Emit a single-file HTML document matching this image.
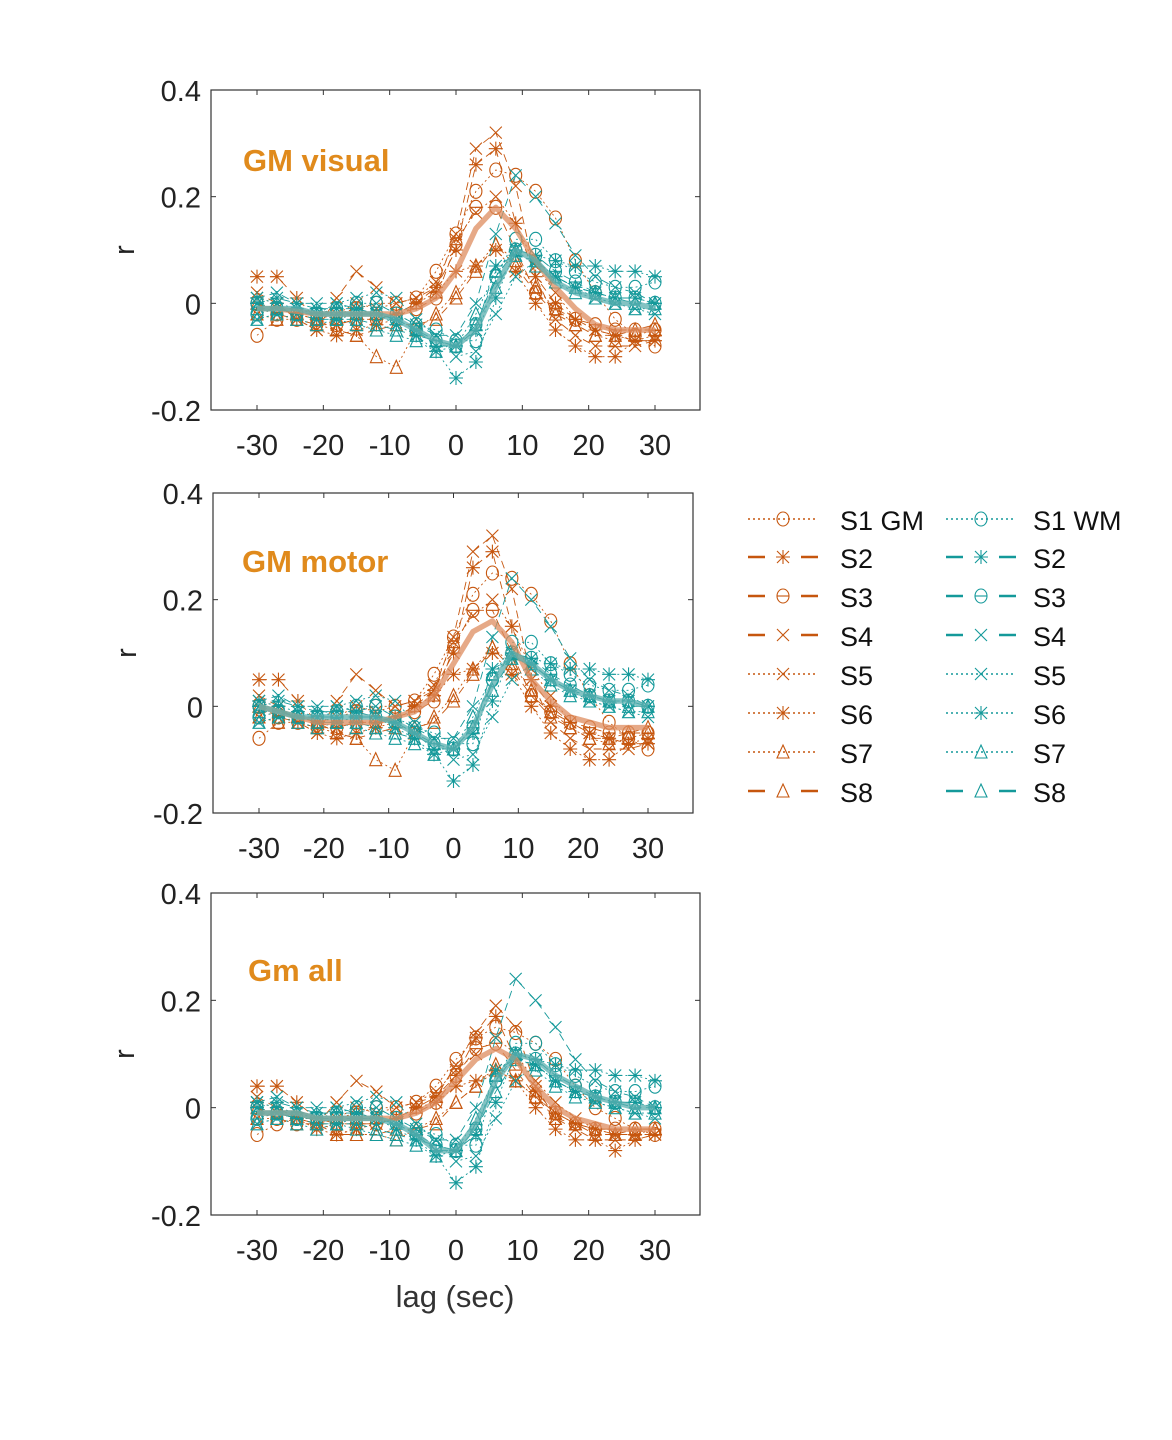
<!DOCTYPE html>
<html><head><meta charset="utf-8">
<style>
html,body{margin:0;padding:0;background:#fff;}
svg{display:block;font-family:"Liberation Sans",sans-serif;}
</style></head>
<body>
<svg id="chart" width="1172" height="1440" viewBox="0 0 1172 1440" xmlns="http://www.w3.org/2000/svg"></svg>
<script>
const lags = [-30,-27,-24,-21,-18,-15,-12,-9,-6,-3,0,3,6,9,12,15,18,21,24,27,30];
const xTicks = [-30,-20,-10,0,10,20,30];
const yTicks = [0.4,0.2,0,-0.2];
const yTickLabels = ["0.4","0.2","0","-0.2"];
const panelTitles = ["GM visual","GM motor","Gm all"];
const legendLabelsGM = ["S1 GM","S2","S3","S4","S5","S6","S7","S8"];
const legendLabelsWM = ["S1 WM","S2","S3","S4","S5","S6","S7","S8"];

const gmMean1 = [-0.01,-0.01,-0.015,-0.02,-0.02,-0.02,-0.02,-0.02,-0.01,0.01,0.06,0.14,0.18,0.14,0.08,0.03,-0.01,-0.04,-0.05,-0.05,-0.05];
const wmMean1 = [-0.01,-0.01,-0.01,-0.02,-0.02,-0.02,-0.02,-0.03,-0.05,-0.07,-0.08,-0.05,0.03,0.10,0.08,0.04,0.02,0.01,0.00,0.00,-0.01];
const gmMean2 = [0.00,-0.01,-0.02,-0.03,-0.03,-0.03,-0.03,-0.02,-0.01,0.02,0.08,0.14,0.16,0.12,0.05,0.01,-0.02,-0.03,-0.04,-0.04,-0.04];
const wmMean2 = [0.00,-0.01,-0.02,-0.02,-0.02,-0.02,-0.02,-0.03,-0.05,-0.07,-0.08,-0.04,0.04,0.10,0.08,0.05,0.03,0.02,0.01,0.01,0.00];
const gmMean3 = [-0.01,-0.01,-0.01,-0.02,-0.02,-0.02,-0.02,-0.02,-0.01,0.01,0.05,0.09,0.11,0.09,0.04,0.00,-0.02,-0.03,-0.04,-0.04,-0.04];
const wmMean3 = [-0.01,-0.01,-0.01,-0.02,-0.02,-0.02,-0.02,-0.03,-0.05,-0.08,-0.08,-0.03,0.05,0.10,0.09,0.06,0.04,0.02,0.01,0.00,0.00];

const gmS1 = [-0.06,-0.03,-0.02,-0.03,-0.02,-0.01,0.00,0.00,0.01,0.06,0.13,0.21,0.25,0.24,0.21,0.16,0.08,0.02,-0.03,-0.06,-0.08];
const gmS2 = [0.05,0.05,0.01,-0.03,-0.04,-0.03,-0.03,-0.02,0.00,0.03,0.10,0.26,0.29,0.15,0.05,0.00,-0.03,-0.05,-0.06,-0.07,-0.07];
const gmS3 = [0.00,-0.02,-0.03,-0.04,-0.04,-0.03,-0.03,-0.02,-0.01,0.01,0.11,0.18,0.18,0.10,0.02,-0.01,-0.03,-0.04,-0.05,-0.05,-0.05];
const gmS4 = [0.02,0.00,-0.03,-0.05,0.01,0.06,0.03,0.00,0.01,0.03,0.13,0.29,0.32,0.22,0.05,-0.03,-0.06,-0.08,-0.08,-0.08,-0.07];
const gmS5 = [-0.02,-0.01,-0.02,-0.03,-0.02,0.00,-0.01,0.00,0.01,0.04,0.12,0.17,0.20,0.15,0.07,0.02,-0.03,-0.05,-0.06,-0.07,-0.07];
const gmS6 = [0.01,0.00,-0.03,-0.05,-0.06,-0.05,-0.04,-0.03,0.00,0.02,0.06,0.07,0.10,0.06,0.00,-0.05,-0.08,-0.10,-0.10,-0.07,-0.06];
const gmS7 = [-0.02,-0.03,-0.03,-0.04,-0.05,-0.06,-0.10,-0.12,-0.05,-0.02,0.02,0.07,0.11,0.08,0.03,-0.01,-0.04,-0.06,-0.07,-0.06,-0.05];
const gmS8 = [0.00,-0.01,-0.02,-0.03,-0.05,-0.06,-0.05,-0.04,-0.04,-0.03,0.01,0.06,0.11,0.07,0.02,-0.02,-0.04,-0.06,-0.06,-0.05,-0.04];
const gmAllS1 = [-0.05,-0.03,-0.02,-0.03,-0.02,-0.01,0.00,0.00,0.01,0.04,0.09,0.13,0.15,0.14,0.12,0.09,0.04,0.00,-0.02,-0.04,-0.05];
const gmAllS2 = [0.04,0.04,0.01,-0.02,-0.03,-0.03,-0.03,-0.02,0.00,0.02,0.06,0.13,0.17,0.09,0.03,-0.01,-0.03,-0.04,-0.05,-0.05,-0.05];
const gmAllS3 = [0.00,-0.02,-0.03,-0.03,-0.03,-0.03,-0.03,-0.02,-0.01,0.01,0.06,0.11,0.12,0.07,0.02,-0.01,-0.03,-0.04,-0.04,-0.04,-0.04];
const gmAllS4 = [0.02,0.00,-0.02,-0.03,0.01,0.05,0.03,0.00,0.01,0.02,0.08,0.14,0.19,0.15,0.04,-0.02,-0.04,-0.06,-0.06,-0.06,-0.05];
const gmAllS5 = [-0.02,-0.01,-0.02,-0.02,-0.02,0.00,-0.01,0.00,0.01,0.03,0.07,0.10,0.13,0.10,0.05,0.01,-0.02,-0.04,-0.05,-0.05,-0.05];
const gmAllS6 = [0.01,0.00,-0.02,-0.04,-0.05,-0.04,-0.03,-0.02,0.00,0.01,0.04,0.05,0.07,0.05,0.00,-0.04,-0.06,-0.06,-0.08,-0.06,-0.05];
const gmAllS7 = [-0.02,-0.02,-0.03,-0.03,-0.04,-0.05,-0.05,-0.06,-0.04,-0.02,0.01,0.04,0.07,0.05,0.02,-0.01,-0.03,-0.04,-0.05,-0.05,-0.04];
const gmAllS8 = [0.00,-0.01,-0.02,-0.03,-0.05,-0.05,-0.05,-0.04,-0.04,-0.03,0.01,0.04,0.08,0.05,0.02,-0.02,-0.03,-0.05,-0.05,-0.04,-0.04];
const wmS1 = [-0.02,-0.01,-0.02,-0.02,-0.01,0.00,0.00,-0.02,-0.04,-0.05,-0.07,-0.07,0.05,0.12,0.12,0.08,0.06,0.04,0.03,0.03,0.04];
const wmS2 = [0.00,0.01,0.00,-0.01,-0.01,-0.01,-0.02,-0.03,-0.05,-0.08,-0.08,-0.05,0.07,0.09,0.08,0.05,0.03,0.02,0.01,0.01,0.00];
const wmS3 = [0.00,-0.01,-0.02,-0.02,-0.02,-0.02,-0.02,-0.03,-0.05,-0.07,-0.08,-0.04,0.05,0.10,0.09,0.06,0.04,0.02,0.01,0.01,0.00];
const wmS4 = [0.01,0.02,0.00,0.00,0.00,-0.01,0.00,-0.02,-0.04,-0.06,-0.06,0.00,0.13,0.24,0.20,0.15,0.09,0.05,0.03,0.02,0.00];
const wmS5 = [-0.03,-0.02,-0.01,-0.02,0.00,0.01,0.02,0.01,-0.03,-0.06,-0.10,-0.09,-0.02,0.05,0.08,0.05,0.03,0.01,0.00,-0.01,-0.02];
const wmS6 = [0.01,0.00,-0.01,-0.02,-0.03,-0.02,-0.02,-0.04,-0.06,-0.09,-0.14,-0.11,0.01,0.10,0.09,0.08,0.07,0.07,0.06,0.06,0.05];
const wmS7 = [-0.03,-0.02,-0.03,-0.04,-0.03,-0.04,-0.05,-0.06,-0.07,-0.09,-0.08,-0.02,0.06,0.10,0.07,0.04,0.02,0.01,0.00,-0.01,-0.01];
const wmS8 = [-0.01,-0.01,-0.02,-0.03,-0.03,-0.03,-0.04,-0.05,-0.06,-0.07,-0.08,-0.04,0.03,0.09,0.08,0.05,0.03,0.02,0.01,0.00,0.00];

const NS = "http://www.w3.org/2000/svg";
const svg = document.getElementById("chart");
const GM = "#c6560e", WM = "#14999a";
const markers = ["circle","star","theta","x","x","star","tri","tri"];
const dashes = ["2,3","8,5","8,5","8,5","2,3","2,3","2,3","8,5"];
const gmSubjectsA = [gmS1,gmS2,gmS3,gmS4,gmS5,gmS6,gmS7,gmS8];
const gmSubjectsAll = [gmAllS1,gmAllS2,gmAllS3,gmAllS4,gmAllS5,gmAllS6,gmAllS7,gmAllS8];
const gmSubjectsByPanel = [gmSubjectsA, gmSubjectsA, gmSubjectsAll];
const wmSubjects = [wmS1,wmS2,wmS3,wmS4,wmS5,wmS6,wmS7,wmS8];
const gmMeans = [gmMean1,gmMean2,gmMean3];
const wmMeans = [wmMean1,wmMean2,wmMean3];
const panels = [
 {l:211,t:90,r:700,b:410,x0:257,x1:655,tx:243,ty:171,name:"visual"},
 {l:213,t:493,r:693,b:813,x0:259,x1:648,tx:242,ty:572,name:"motor"},
 {l:211,t:893,r:700,b:1215,x0:257,x1:655,tx:248,ty:981,name:"all"}
];

function mk(tag, attrs, parent){
  const e = document.createElementNS(NS, tag);
  for (const k in attrs) e.setAttribute(k, attrs[k]);
  (parent||svg).appendChild(e);
  return e;
}
function drawMarker(g, type, x, y, col){
  const s = 6;
  const st = {stroke:col, "stroke-width":1.1, fill:"none"};
  if (type==="circle"||type==="theta"){
    mk("ellipse", Object.assign({cx:x,cy:y,rx:s,ry:s+1},st), g);
    if (type==="theta") mk("line", Object.assign({x1:x-s,y1:y,x2:x+s,y2:y},st), g);
  } else if (type==="x"){
    mk("path", Object.assign({d:`M${x-s} ${y-s}L${x+s} ${y+s}M${x-s} ${y+s}L${x+s} ${y-s}`},st), g);
  } else if (type==="star"){
    mk("path", Object.assign({d:`M${x-s} ${y-s}L${x+s} ${y+s}M${x-s} ${y+s}L${x+s} ${y-s}M${x} ${y-s-1}L${x} ${y+s+1}M${x-s-1} ${y}L${x+s+1} ${y}`},st), g);
  } else if (type==="tri"){
    mk("path", Object.assign({d:`M${x} ${y-s-1}L${x+s} ${y+s}L${x-s} ${y+s}Z`},st), g);
  }
}

panels.forEach((p, pi) => {
  const X = v => p.x0 + (v + 30) / 60 * (p.x1 - p.x0);
  const Y = v => p.b - (v + 0.2) / 0.6 * (p.b - p.t);
  const g = mk("g", {});
  
  
  const frame = mk("rect", {x:p.l,y:p.t,width:p.r-p.l,height:p.b-p.t,fill:"none",stroke:"#333","stroke-width":1.2}, g);
  
  
  xTicks.forEach(v => {
    mk("line",{x1:X(v),x2:X(v),y1:p.t,y2:p.t+5,stroke:"#333"},g);
    mk("line",{x1:X(v),x2:X(v),y1:p.b,y2:p.b-5,stroke:"#333"},g);
    const t = mk("text",{x:X(v),y:p.b+45,"text-anchor":"middle","font-size":29,fill:"#222"},g);
    t.textContent = String(v);
    
    
  });
  yTicks.forEach((v,i) => {
    mk("line",{x1:p.l,x2:p.l+5,y1:Y(v),y2:Y(v),stroke:"#333"},g);
    mk("line",{x1:p.r,x2:p.r-5,y1:Y(v),y2:Y(v),stroke:"#333"},g);
    const t = mk("text",{x:p.l-10,y:Y(v)+11,"text-anchor":"end","font-size":29,fill:"#222"},g);
    t.textContent = yTickLabels[i];
    
    
  });
  const yl = mk("text",{x:0,y:0,transform:`translate(${p.l-77},${(p.t+p.b)/2}) rotate(-90)`,"text-anchor":"middle","font-size":29,fill:"#222"},g);
  yl.textContent = "r";
  
  
  const ttl = mk("text",{x:p.tx,y:p.ty,"font-size":31,"font-weight":"bold",fill:"#e08a1c"},g);
  ttl.textContent = panelTitles[pi];
  
  

  function series(arr, col, mi, label){
    const sg = mk("g",{},g);
    
    
    const d = arr.map((v,i)=> (i?"L":"M")+X(lags[i])+" "+Y(v)).join("");
    mk("path",{d:d,fill:"none",stroke:col,"stroke-width":0.9,"stroke-dasharray":dashes[mi]},sg);
    arr.forEach((v,i)=> drawMarker(sg, markers[mi], X(lags[i]), Y(v), col));
  }
  gmSubjectsByPanel[pi].forEach((a,i)=>series(a, GM, i, 'gm-s'+(i+1)+'-series'));
  wmSubjects.forEach((a,i)=>series(a, WM, i, 'wm-s'+(i+1)+'-series'));
  [[gmMeans[pi],"rgba(222,140,95,0.75)","gm-mean-line"],[wmMeans[pi],"rgba(90,175,175,0.75)","wm-mean-line"]].forEach(([arr,col,nm])=>{
    const d = arr.map((v,i)=> (i?"L":"M")+X(lags[i])+" "+Y(v)).join("");
    const m = mk("path",{d:d,fill:"none",stroke:col,"stroke-width":5.5,"stroke-linejoin":"round"},g);
    
    
  });
});
const xl = mk("text",{x:455,y:1307,"text-anchor":"middle","font-size":31,fill:"#333"});
xl.textContent = "lag (sec)";



// legend
const rowsY = [519,557,596,635,674,713,752,791];
const lg = mk("g",{});


[[748,840,GM,legendLabelsGM,"gm"],[946,1033,WM,legendLabelsWM,"wm"]].forEach(([sx,lx,col,labels,key])=>{
  labels.forEach((lab,i)=>{
    const eg = mk("g",{},lg);
    
    
    const y = rowsY[i];
    mk("line",{x1:sx,x2:sx+70,y1:y,y2:y,stroke:col,"stroke-width":dashes[i]==="8,5"?2.5:1.5,"stroke-dasharray":dashes[i]==="8,5"?"17,36":"2,3"},eg);
    drawMarker(eg, markers[i], sx+35, y, col);
    const t = mk("text",{x:lx,y:y+11,"font-size":27,fill:"#111"},eg);
    t.textContent = lab;
  });
});
</script>
</body></html>
